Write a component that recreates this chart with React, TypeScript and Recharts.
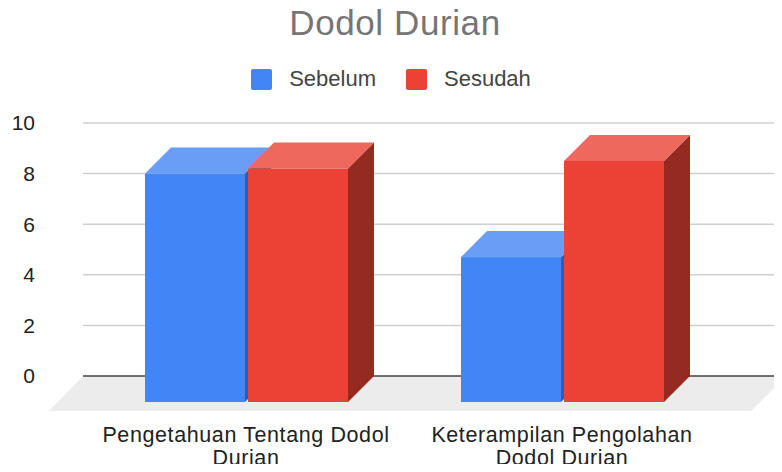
import React from 'react';
import { BarChart, Bar, XAxis, YAxis, CartesianGrid, Legend } from 'recharts';

const categories = ['Pengetahuan Tentang Dodol Durian', 'Keterampilan Pengolahan Dodol Durian'];
const sebelum = [8, 4.7];
const sesudah = [8.2, 8.5];
const yTicks = [0, 2, 4, 6, 8, 10];

const FONT = '"Liberation Sans", Arial, sans-serif';
const DEPTH = 26;
const CHART_W = 782;
const CHART_H = 472;
const MARGIN = { top: 123, right: 0, left: 0, bottom: 56 };
const XAXIS_H = 40;
const PLOT_BOTTOM = CHART_H - MARGIN.bottom - XAXIS_H;

const COLORS = {
    Sebelum: { front: '#4285f4', top: '#6a9ef6', side: '#2b5fb3' },
    Sesudah: { front: '#ea4335', top: '#ee685d', side: '#952a21' },
};

const data = categories.map((name, i) => ({
    name,
    Sebelum: sebelum[i],
    Sesudah: sesudah[i],
}));

// greedy word wrap by character count
const wrapWords = (text: string, maxChars: number) => {
    const lines: string[] = [];
    let cur = '';
    text.split(' ').forEach((w) => {
        const next = cur ? cur + ' ' + w : w;
        if (next.length > maxChars && cur) {
            lines.push(cur);
            cur = w;
        } else {
            cur = next;
        }
    });
    if (cur) lines.push(cur);
    return lines;
};

const Bar3D = (props: any) => {
    const { x, y, width, height, colors } = props;
    const d = DEPTH;
    const bottom = y + height + d;
    const r = x + width;
    return (
        <g>
            <polygon points={`${r},${y} ${r + d},${y - d} ${r + d},${bottom - d} ${r},${bottom}`} fill={colors.side} />
            <polygon points={`${x},${y} ${x + d},${y - d} ${r + d},${y - d} ${r},${y}`} fill={colors.top} />
            <rect x={x} y={y} width={width} height={bottom - y} fill={colors.front} />
        </g>
    );
};

// grid lines; the baseline one also gets the 3D floor
const GridLine = (props: any) => {
    const { x1, x2, y1 } = props;
    if (Math.abs(y1 - PLOT_BOTTOM) < 1) {
        return (
            <g>
                <polygon
                    points={`${x1},${y1} ${x2 + 4},${y1} ${x2 - 31},${y1 + 35} ${x1 - 34},${y1 + 35}`}
                    fill="#ececec"
                />
                <line x1={x1} y1={y1} x2={x2} y2={y1} stroke="#444" strokeWidth={1.6} />
            </g>
        );
    }
    return <line x1={x1} y1={y1} x2={x2} y2={y1} stroke="#cfcfcf" strokeWidth={1.5} />;
};

const XTick = (props: any) => {
    const { x, y, payload } = props;
    const lines = wrapWords(String(payload.value), 26);
    return (
        <text x={x} y={y} textAnchor="middle" fontSize={21.5} letterSpacing={0.6} fontFamily={FONT} fill="#222">
            {lines.map((line, i) => (
                <tspan key={i} x={x} dy={i === 0 ? 15 : 23}>
                    {line}
                </tspan>
            ))}
        </text>
    );
};

const LegendContent = () => (
    <div style={{ display: 'flex', justifyContent: 'center', alignItems: 'center', fontFamily: FONT, fontSize: 22, color: '#444' }}>
        {(['Sebelum', 'Sesudah'] as const).map((key, i) => (
            <div key={key} style={{ display: 'flex', alignItems: 'center', marginLeft: i ? 30 : 0 }}>
                <span style={{ display: 'inline-block', width: 21, height: 21, borderRadius: 2, background: COLORS[key].front, marginRight: 17 }} />
                <span>{key}</span>
            </div>
        ))}
    </div>
);

const App: React.FC = () => {
    return (
        <div style={{ position: 'relative', width: CHART_W, height: CHART_H, margin: -8, background: '#fff' }}>
            <div
                style={{
                    position: 'absolute',
                    top: 6,
                    left: 4,
                    width: CHART_W,
                    textAlign: 'center',
                    fontFamily: FONT,
                    fontSize: 35,
                    letterSpacing: 0.6,
                    lineHeight: '34px',
                    color: '#757575',
                }}
            >
                Dodol Durian
            </div>
            <BarChart
                width={CHART_W}
                height={CHART_H}
                data={data}
                margin={MARGIN}
                barSize={100}
                barGap={3}
            >
                <CartesianGrid horizontal={GridLine} vertical={false} />
                <XAxis
                    dataKey="name"
                    height={XAXIS_H}
                    axisLine={false}
                    tickLine={false}
                    tickSize={0}
                    tickMargin={51}
                    padding={{ left: 5, right: 62 }}
                    tick={XTick}
                    interval={0}
                />
                <YAxis
                    width={83}
                    domain={[0, 10]}
                    ticks={yTicks}
                    axisLine={false}
                    tickLine={false}
                    tickSize={0}
                    tickMargin={48}
                    tick={{ fontSize: 21, fill: '#222', fontFamily: FONT }}
                />
                <Legend
                    verticalAlign="middle"
                    align="center"
                    layout="horizontal"
                    content={LegendContent}
                    wrapperStyle={{ top: 66, left: 0, width: CHART_W }}
                />
                <Bar dataKey="Sebelum" isAnimationActive={false} shape={(p: any) => <Bar3D {...p} colors={COLORS.Sebelum} />} />
                <Bar dataKey="Sesudah" isAnimationActive={false} shape={(p: any) => <Bar3D {...p} colors={COLORS.Sesudah} />} />
            </BarChart>
        </div>
    );
};

export default App;
